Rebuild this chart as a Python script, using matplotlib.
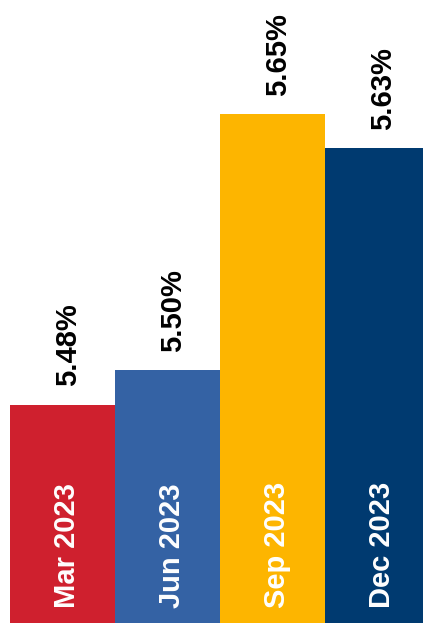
import matplotlib
matplotlib.use("Agg")
import matplotlib.pyplot as plt

# quarterly rates
periods = ["Mar 2023", "Jun 2023", "Sep 2023", "Dec 2023"]
rates = [5.48, 5.50, 5.65, 5.63]
colors = ["#CF202E", "#3462A4", "#FDB500", "#003A70"]

plt.rcParams["font.family"] = ["Liberation Sans", "DejaVu Sans"]

fig = plt.figure(figsize=(4.23, 6.23), dpi=100)
ax = fig.add_axes([0, 0, 1, 1])
x = range(len(periods))
ax.bar(x, rates, width=1.0, color=colors, bottom=0, zorder=2)

for i, (p, v) in enumerate(zip(periods, rates)):
    # value above the bar
    ax.annotate(f"{v:.2f}%", (i, v), xytext=(4, 13), textcoords="offset points",
                rotation=90, ha="center", va="bottom", fontsize=21,
                fontweight="bold", color="black")
    # period inside the bar, near the bottom
    ax.annotate(p, (i, 5.352), xytext=(3.5, 11), textcoords="offset points",
                rotation=90, ha="center", va="bottom", fontsize=21,
                fontweight="bold", color="white")

ax.set_xlim(-0.595, 3.433)
ax.set_ylim(5.352, 5.717)
ax.axis("off")

fig.savefig("out.png", dpi=100)
